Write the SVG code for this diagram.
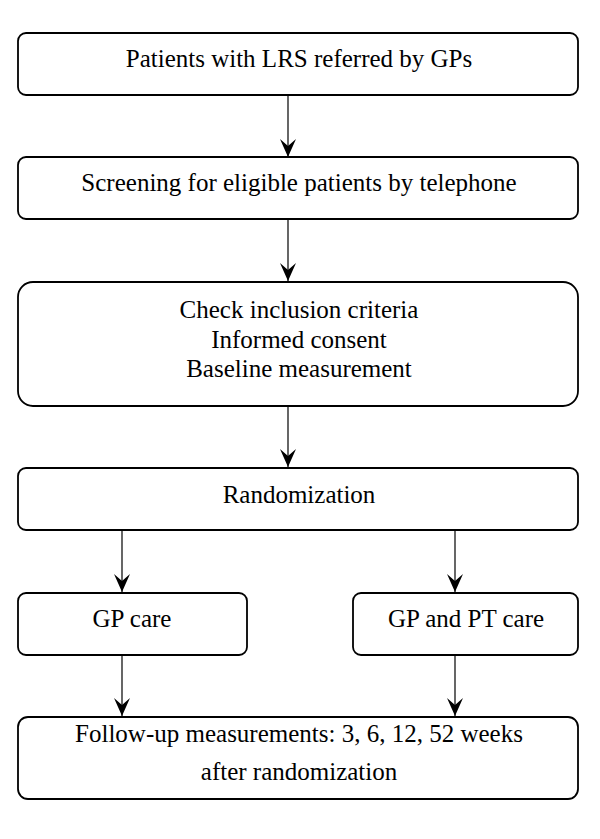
<svg xmlns="http://www.w3.org/2000/svg" width="600" height="839" viewBox="0 0 600 839">
<style>
.box{fill:#fff;stroke:#000;stroke-width:1.8}
.t{font-family:"Liberation Serif","Times New Roman",serif;font-size:25px;fill:#000;text-anchor:middle}
.c{stroke:#000;stroke-width:1.2;fill:none;marker-end:url(#ah)}
</style>
<defs>
<marker id="ah" markerUnits="userSpaceOnUse" markerWidth="18" markerHeight="16" viewBox="-18 -8 18 16" refX="0" refY="0" orient="auto">
<path d="M0,0 L-18,-8 L-11,0 L-18,8 Z" fill="#000"/>
</marker>
</defs>
<rect width="600" height="839" fill="#fff"/>
<g id="connectors">
<line class="c" x1="288" y1="95" x2="288" y2="157"/>
<line class="c" x1="288" y1="219" x2="288" y2="281"/>
<line class="c" x1="288" y1="406" x2="288" y2="467"/>
<line class="c" x1="122" y1="530" x2="122" y2="592"/>
<line class="c" x1="455" y1="530" x2="455" y2="592"/>
<line class="c" x1="122" y1="655" x2="122" y2="716"/>
<line class="c" x1="455" y1="655" x2="455" y2="716"/>
</g>
<g id="n1">
<rect class="box" x="18" y="33" width="560" height="62" rx="8"/>
<text class="t" x="299" y="67">Patients with LRS referred by GPs</text>
</g>
<g id="n2">
<rect class="box" x="18" y="157" width="560" height="62" rx="8"/>
<text class="t" x="299" y="191">Screening for eligible patients by telephone</text>
</g>
<g id="n3">
<rect class="box" x="18" y="282" width="560" height="124" rx="15"/>
<text class="t" x="299" y="318">Check inclusion criteria</text>
<text class="t" x="299" y="348">Informed consent</text>
<text class="t" x="299" y="377">Baseline measurement</text>
</g>
<g id="n4">
<rect class="box" x="18" y="468" width="560" height="62" rx="8"/>
<text class="t" x="299" y="503">Randomization</text>
</g>
<g id="n5">
<rect class="box" x="18" y="593" width="229" height="62" rx="8"/>
<text class="t" x="132" y="627">GP care</text>
</g>
<g id="n6">
<rect class="box" x="353" y="593" width="225" height="62" rx="8"/>
<text class="t" x="466" y="627">GP and PT care</text>
</g>
<g id="n7">
<rect class="box" x="18" y="717" width="560" height="82" rx="10"/>
<text class="t" x="299" y="742">Follow-up measurements: 3, 6, 12, 52 weeks</text>
<text class="t" x="299" y="780">after randomization</text>
</g>
</svg>
